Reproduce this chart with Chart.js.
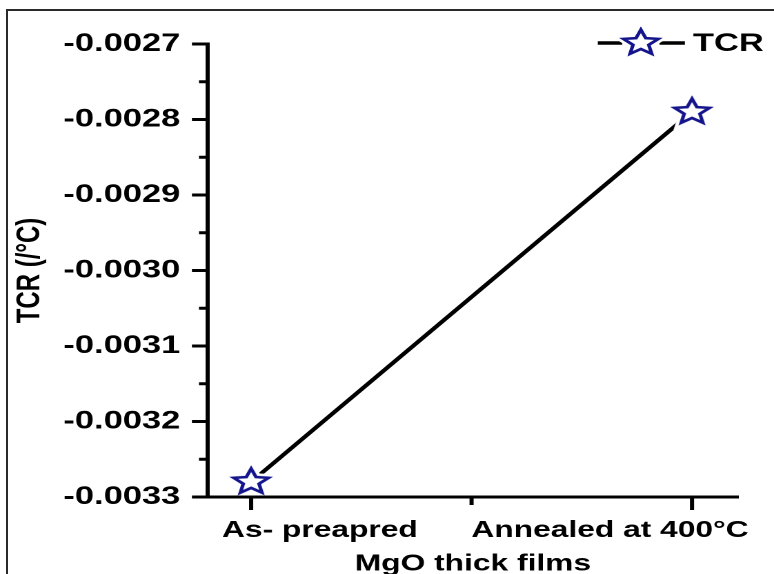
<!DOCTYPE html>
<html><head><meta charset="utf-8">
<script src="https://cdn.jsdelivr.net/npm/chart.js@4.4.1/dist/chart.umd.min.js"></script>
<style>
html,body{margin:0;padding:0;background:#fff;overflow:hidden;width:774px;height:574px;}
#wrap{position:absolute;left:0;top:0;width:561px;height:574px;transform:scaleX(1.3797);transform-origin:0 0;}
#frame{position:absolute;left:6px;top:9px;width:820px;height:620px;border:2px solid #2a2a2a;box-sizing:border-box;}
</style></head><body>
<div id="frame"></div>
<div id="wrap"><canvas id="c" width="561" height="574"></canvas></div>
<script>
// ---- data ----
const categories = ['As- preapred', 'Annealed at 400°C'];
const tcrValues = [-0.00328, -0.00279];
const seriesLabel = 'TCR';
const yTickValues = [-0.0033, -0.0032, -0.0031, -0.0030, -0.0029, -0.0028, -0.0027];
const yTickLabels = ['-0.0033', '-0.0032', '-0.0031', '-0.0030', '-0.0029', '-0.0028', '-0.0027'];
const xTitle = 'MgO thick films';
const yTitle = 'TCR (/°C)';

// ---- presentation ----
const FONT = '"Liberation Sans", Arial, Helvetica, sans-serif';
const NAVY = '#14148c';
const xLabelAt = [0.156, 0.814];

function starImage(R, ratio, halo) {
  const S = Math.ceil(2 * (R + halo + 2));
  const cv = document.createElement('canvas');
  cv.width = S * 2; cv.height = S * 2;
  const g = cv.getContext('2d');
  g.scale(2, 2);
  g.translate(S / 2, S / 2);
  g.beginPath();
  for (let i = 0; i < 10; i++) {
    const a = -Math.PI / 2 + i * Math.PI / 5;
    const rr = i % 2 === 0 ? R : R * ratio;
    const px = Math.cos(a) * rr, py = Math.sin(a) * rr;
    if (i === 0) g.moveTo(px, py); else g.lineTo(px, py);
  }
  g.closePath();
  g.lineJoin = 'miter';
  g.strokeStyle = '#fff'; g.lineWidth = 2.6 + 2 * halo; g.stroke();
  g.fillStyle = '#fff'; g.fill();
  g.strokeStyle = NAVY; g.lineWidth = 2.6; g.stroke();
  const img = new Image(S, S);
  img.src = cv.toDataURL();
  return img;
}

const star = starImage(13.3, 0.45, 2.5);

const axisMarks = {
  id: 'axisMarks',
  afterDraw(chart) {
    const {ctx, scales: {x, y}} = chart;
    ctx.save();
    ctx.strokeStyle = '#000';
    ctx.lineWidth = 3;
    const seg = (x1, y1, x2, y2) => { ctx.beginPath(); ctx.moveTo(x1, y1); ctx.lineTo(x2, y2); ctx.stroke(); };
    const yl = y.right;
    seg(x.left - 1.5, x.top, x.right, x.top);
    yTickValues.forEach((v, i) => {
      const p = y.getPixelForValue(v);
      seg(yl - 11.6, p, yl, p);
      if (i < yTickValues.length - 1) {
        const pm = y.getPixelForValue((v + yTickValues[i + 1]) / 2);
        seg(yl - 6.5, pm, yl, pm);
      }
    });
    const xt = x.top;
    categories.forEach((c, i) => {
      const p = x.getPixelForValue(i);
      seg(p, xt, p, xt + 13);
      if (i < categories.length - 1) {
        const pm = x.getPixelForValue(i + 0.5);
        seg(pm, xt, pm, xt + 8);
      }
    });
    // legend
    const ly = 43;
    ctx.lineWidth = 3.5;
    seg(433.3, ly, 451, ly);
    seg(478, ly, 496.4, ly);
    ctx.drawImage(star, 464.5 - star.width / 2, ly - star.height / 2, star.width, star.height);
    ctx.fillStyle = '#000';
    ctx.font = 'bold 25px ' + FONT;
    ctx.textBaseline = 'middle';
    ctx.textAlign = 'left';
    ctx.fillText(chart.data.datasets[0].label, 502.2, ly + 1);
    ctx.restore();
  }
};

function build() {
  new Chart(document.getElementById('c'), {
    type: 'line',
    data: {
      datasets: [{
        label: seriesLabel,
        data: tcrValues.map((v, i) => ({x: i, y: v})),
        borderColor: '#000',
        borderWidth: 3.5,
        pointStyle: star,
        pointRadius: 12,
        pointHoverRadius: 12,
        fill: false,
        tension: 0
      }]
    },
    options: {
      responsive: false,
      animation: false,
      devicePixelRatio: 2,
      layout: {padding: {top: 44, right: 26.2, bottom: 0, left: 3}},
      plugins: {legend: {display: false}, tooltip: {enabled: false}},
      scales: {
        x: {
          type: 'linear',
          min: -0.098, max: 1.104,
          grid: {display: false, drawTicks: false},
          border: {display: true, color: '#000', width: 3},
          afterBuildTicks: s => { s.ticks = xLabelAt.map(v => ({value: v})); },
          afterFit: s => { s.height = 77; s.paddingLeft = 0; s.paddingRight = 0; },
          ticks: {
            autoSkip: false, maxRotation: 0, padding: 20, color: '#000',
            font: {family: FONT, size: 23, weight: 'bold'},
            callback: (v, i) => categories[i]
          },
          title: {
            display: true, text: xTitle, color: '#000',
            font: {family: FONT, size: 23, weight: 'bold'},
            padding: {top: 0, bottom: -4}
          }
        },
        y: {
          type: 'linear',
          min: -0.0033, max: -0.0027,
          grid: {display: false, drawTicks: false},
          border: {display: true, color: '#000', width: 3},
          afterBuildTicks: s => { s.ticks = yTickValues.map(v => ({value: v})); },
          afterFit: s => { s.width = 147.7; s.paddingTop = 0; s.paddingBottom = 0; },
          ticks: {
            padding: 20, color: '#000',
            font: {family: FONT, size: 25, weight: 'bold'},
            callback: (v, i) => yTickLabels[i]
          },
          title: {
            display: true, text: yTitle, color: '#000',
            font: {family: FONT, size: 24, weight: 'bold'},
            padding: {top: 4.3, bottom: 0}
          }
        }
      }
    },
    plugins: [axisMarks]
  });
}
if (star.complete) build(); else star.onload = build;
</script>
</body></html>
